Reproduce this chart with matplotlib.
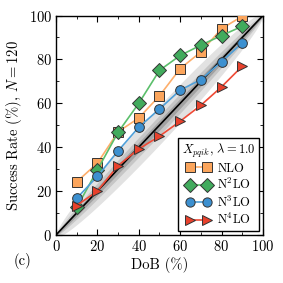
import numpy as np
import matplotlib
matplotlib.use("Agg")
import matplotlib.pyplot as plt
from matplotlib.ticker import MultipleLocator

plt.rcParams["font.family"] = "serif"
plt.rcParams["font.serif"] = ["cmr10"]
plt.rcParams["mathtext.fontset"] = "cm"
plt.rcParams["axes.formatter.use_mathtext"] = True
plt.rcParams["axes.unicode_minus"] = False

# ── data ───────────────────────────────────────────────────────────────────────
N_SAMPLES = 120
dob = [10, 20, 30, 40, 50, 60, 70, 80, 90]

nlo  = [24.2, 32.7, 47.0, 53.3, 63.4, 75.8, 83.4, 94.0, 99.7]
n2lo = [12.5, 29.6, 46.8, 60.0, 75.0, 81.8, 86.5, 90.9, 95.1]
n3lo = [16.7, 26.7, 38.3, 49.1, 57.4, 66.0, 70.8, 79.0, 87.5]
n4lo = [13.4, 20.0, 31.6, 39.2, 45.0, 51.8, 59.1, 67.5, 76.9]

labels = ["NLO", r"N$^2$LO", r"N$^3$LO", r"N$^4$LO"]
band_sigmas = [1.96, 1.0, 0.5]
band_greys  = ["#e2e2e2", "#c6c6c6", "#a2a2a2"]

# ── figure ─────────────────────────────────────────────────────────────────────
fig = plt.figure(figsize=(2.83, 2.83), dpi=100)
ax = fig.add_axes([0.198, 0.170, 0.731, 0.775])

# binomial consistency bands around the diagonal
p = np.linspace(0, 1, 201)
for k, grey in zip(band_sigmas, band_greys):
    sig = np.sqrt(p * (1 - p) / N_SAMPLES)
    ax.fill_between(100 * p, 100 * (p - k * sig), 100 * (p + k * sig),
                    color=grey, lw=0, zorder=1)
ax.plot([0, 100], [0, 100], color="k", lw=1.2, zorder=2)

styles = [
    dict(marker="s", mfc="#fba55c", color="#fdae6b", ms=7),
    dict(marker="D", mfc="#41ab5d", color="#5bbf6b", ms=7),
    dict(marker="o", mfc="#3c90d0", color="#4f9fd8", ms=7),
    dict(marker=">", mfc="#e8412c", color="#ef4a36", ms=7.5),
]
for y, lab, st in zip([nlo, n2lo, n3lo, n4lo], labels, styles):
    ax.plot(dob, y, label=lab, lw=1.2, mec="#333333", mew=0.7, zorder=3, **st)

ax.set_xlim(0, 100)
ax.set_ylim(0, 100)
ax.xaxis.set_major_locator(MultipleLocator(20))
ax.yaxis.set_major_locator(MultipleLocator(20))
ax.xaxis.set_minor_locator(MultipleLocator(10))
ax.yaxis.set_minor_locator(MultipleLocator(10))
ax.tick_params(which="both", direction="in", top=True, right=True, labelsize=10.5)
ax.tick_params(which="major", length=4, width=0.8, pad=3)
ax.tick_params(which="minor", length=2.5, width=0.6)
for s in ax.spines.values():
    s.set_linewidth(1.0)

ax.set_xlabel("DoB (%)", fontsize=10.5, labelpad=2)
ax.set_ylabel(r"Success Rate (%), $N=120$", fontsize=10.5, labelpad=3)

leg = ax.legend(loc="lower right", numpoints=2, fontsize=9,
                title=r"$X_{pqik}$, $\lambda=1.0$", title_fontsize=9,
                fancybox=False, framealpha=1, edgecolor="k",
                borderaxespad=0.3, handlelength=2.0, handletextpad=0.5,
                labelspacing=0.2, borderpad=0.3, markerscale=0.95)
leg.get_frame().set_linewidth(1.0)

fig.text(0.078, 0.062, "(c)", fontsize=10.5, va="baseline", ha="center")

fig.savefig("out.png", dpi=100)
